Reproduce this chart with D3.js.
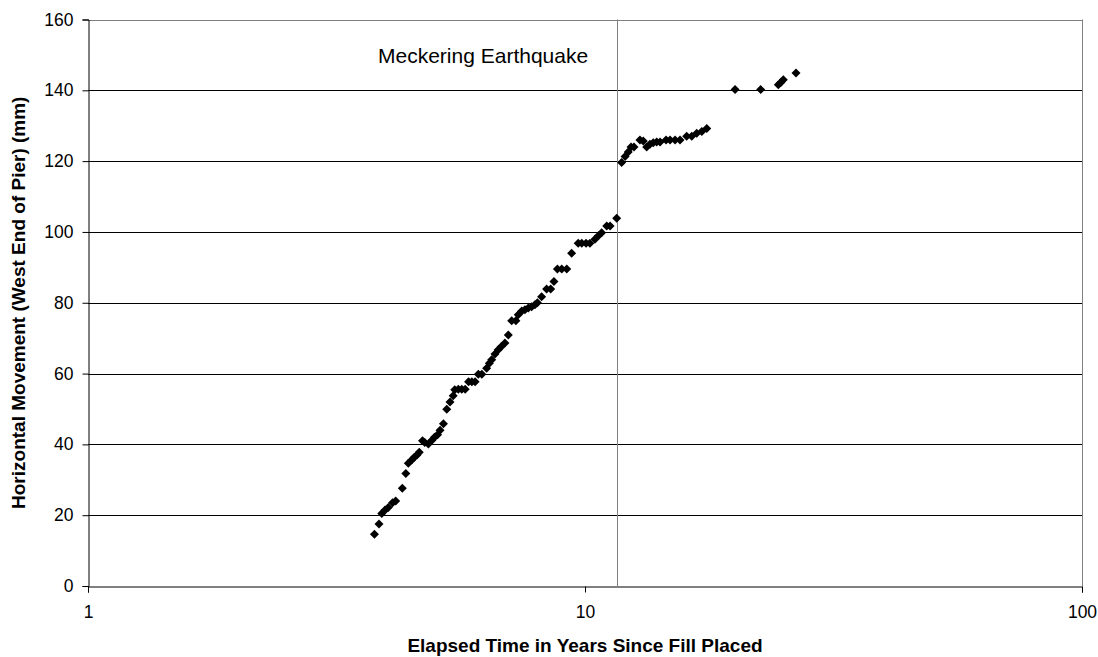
<!DOCTYPE html>
<html><head><meta charset="utf-8">
<script src="https://cdn.jsdelivr.net/npm/d3@7"></script>
<style>body{margin:0;background:#fff;} text{font-family:Arial,"Liberation Sans",sans-serif;}</style>
</head><body><svg id="c" width="1098" height="657"></svg>
<script>
const years = [3.77,3.85,3.90,3.96,4.02,4.10,4.16,4.29,4.36,4.41,4.48,4.53,4.59,4.64,4.71,4.76,4.84,4.92,4.98,5.05,5.11,5.19,5.27,5.35,5.43,5.47,5.56,5.65,5.74,5.83,5.92,6.01,6.10,6.20,6.34,6.42,6.49,6.59,6.69,6.78,6.90,7.01,7.12,7.26,7.34,7.46,7.57,7.69,7.81,7.93,8.02,8.18,8.37,8.53,8.66,8.80,8.98,9.19,9.40,9.69,9.85,10.05,10.23,10.47,10.64,10.80,11.06,11.23,11.58,11.85,12.04,12.22,12.38,12.55,12.90,13.10,13.31,13.51,13.72,13.94,14.16,14.56,14.83,15.18,15.53,16.02,16.40,16.78,17.18,17.58,20.04,22.57,24.49,24.77,25.06,26.58];
const movement = [14.6,17.5,20.5,21.5,22.2,23.5,24,27.6,31.8,34.7,35.6,36.3,37,37.8,41,40.5,40.1,41.2,42,42.7,44,45.8,49.9,52,53.7,55.4,55.6,55.6,55.6,57.7,57.7,57.7,59.8,59.8,61.5,62.9,63.9,65.5,66.7,67.6,68.6,70.9,74.9,74.9,76.6,77.7,78,78.5,78.9,79.4,80,81.7,83.9,83.9,86,89.5,89.5,89.5,94,96.8,96.8,96.8,96.8,97.9,98.9,99.8,101.7,101.7,103.9,119.6,121.3,122.6,124,124,126,125.7,124,124.8,125.2,125.4,125.4,126,126,126,126,127,127,127.9,128.4,129.2,140.2,140.2,141.6,142.2,143,144.9];
const xTicks = [1,10,100];
const yTicks = [0,20,40,60,80,100,120,140,160];
const earthquakeYear = 11.6;
const annotation = "Meckering Earthquake";
const xTitle = "Elapsed Time in Years Since Fill Placed";
const yTitle = "Horizontal Movement (West End of Pier) (mm)";

const L=88, R=1082, T=19.5, B=586;
const svg = d3.select("#c");
const x = d3.scaleLog().domain([1,100]).range([L,R]);
const y = d3.scaleLinear().domain([0,160]).range([B,T]);

// gridlines
svg.append("g").selectAll("line").data(yTicks.filter(d=>d>0 && d<160)).join("line")
  .attr("x1",L).attr("x2",R).attr("y1",d=>Math.round(y(d))+0.5).attr("y2",d=>Math.round(y(d))+0.5)
  .attr("stroke","#000").attr("stroke-width",1);
// plot border top/right gray
svg.append("line").attr("x1",L).attr("x2",R).attr("y1",Math.round(T)+0.5).attr("y2",Math.round(T)+0.5).attr("stroke","#808080");
svg.append("line").attr("x1",R+0.5).attr("x2",R+0.5).attr("y1",T).attr("y2",B).attr("stroke","#808080");

// earthquake line
svg.append("line").attr("x1",Math.round(x(earthquakeYear))+0.5).attr("x2",Math.round(x(earthquakeYear))+0.5)
  .attr("y1",T).attr("y2",B).attr("stroke","#808080").attr("stroke-width",1);

const fam = "Arial, 'Liberation Sans', sans-serif";
// axes
const yAxis = d3.axisLeft(y).tickValues(yTicks).tickSize(6).tickPadding(9).tickFormat(d3.format("d"));
const gy = svg.append("g").attr("transform",`translate(${L+0.5},0)`).call(yAxis);
gy.select(".domain").attr("stroke","#000");
gy.selectAll(".tick line").attr("stroke","#000");
gy.selectAll("text").attr("font-size",17.5).attr("fill","#000").attr("font-family",fam);

const xAxis = d3.axisBottom(x).tickValues(xTicks).tickSize(6).tickPadding(13).tickFormat(d3.format("d"));
const gx = svg.append("g").attr("transform",`translate(0,${B+0.5})`).call(xAxis);
gx.select(".domain").attr("stroke","#000");
gx.selectAll(".tick line").attr("stroke","#000");
gx.selectAll("text").attr("font-size",17.5).attr("fill","#000").attr("font-family",fam);

// points
const r = 4.5;
svg.append("g").selectAll("path").data(years.map((t,i)=>[t,movement[i]])).join("path")
  .attr("transform",d=>`translate(${x(d[0])},${y(d[1])})`)
  .attr("d",`M0,${-r}L${r},0L0,${r}L${-r},0Z`).attr("fill","#000");

// annotation
svg.append("text").attr("x",378).attr("y",63).attr("text-anchor","start").attr("font-size",21).text(annotation);

// titles
svg.append("text").attr("x",(L+R)/2).attr("y",652).attr("text-anchor","middle").attr("font-size",19).attr("font-weight","bold").text(xTitle);
svg.append("text").attr("transform",`translate(25,${(T+B)/2}) rotate(-90)`).attr("text-anchor","middle").attr("font-size",19).attr("font-weight","bold").text(yTitle);
</script></body></html>
